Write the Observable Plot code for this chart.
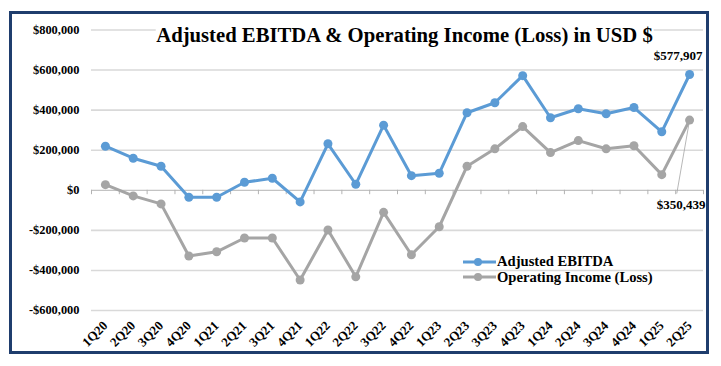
<!DOCTYPE html>
<html>
<head>
<meta charset="utf-8">
<script src="https://cdn.jsdelivr.net/npm/d3@7"></script>
<script src="https://cdn.jsdelivr.net/npm/@observablehq/plot@0.6"></script>
<style>
  html, body { margin: 0; padding: 0; background: #fff; }
  body { position: relative; width: 721px; height: 366px; overflow: hidden; font-family: "Liberation Serif", "Times New Roman", serif; }
  #frame { position: absolute; left: 9px; top: 11px; width: 700px; height: 343px; box-sizing: border-box; border: 3px solid #1f3d6d; }
  #chart { position: absolute; left: 0; top: 0; }
  #title { position: absolute; left: 404.5px; top: 25px; transform: translateX(-50%); background: #fff; white-space: nowrap;
           font: bold 20.7px/21px "Liberation Serif", serif; color: #000; padding: 0 1px; }
  #legend { position: absolute; left: 463px; top: 254px; font: bold 14.6px/15.6px "Liberation Serif", serif; color: #000; }
  #legend .row { display: flex; align-items: center; height: 15.6px; white-space: nowrap; }
  #legend svg { margin-right: 1px; }
</style>
</head>
<body>
<div id="frame"><div id="chart"></div></div>
<div id="title">Adjusted EBITDA &amp; Operating Income (Loss) in USD $</div>
<div id="legend"></div>
<script>
const categories = ["1Q20","2Q20","3Q20","4Q20","1Q21","2Q21","3Q21","4Q21","1Q22","2Q22","3Q22","4Q22",
                    "1Q23","2Q23","3Q23","4Q23","1Q24","2Q24","3Q24","4Q24","1Q25","2Q25"];
const adjustedEbitda = [220000,160000,120000,-35000,-35000,40000,60000,-58000,232000,30000,325000,73000,
                        85000,387000,437000,572000,362000,407000,382000,413000,292000,577907];
const operatingIncome = [28000,-28000,-68000,-328000,-307000,-238000,-238000,-448000,-198000,-432000,-110000,-322000,
                         -182000,120000,207000,318000,188000,248000,207000,222000,78000,350439];
const yTicks = [-600000,-400000,-200000,0,200000,400000,600000,800000];
const seriesNames = ["Adjusted EBITDA", "Operating Income (Loss)"];
const seriesColors = ["#5b9bd5", "#a5a5a5"];

const idx = categories.map((_, i) => i);
const ebitdaData = idx.map(i => ({i, v: adjustedEbitda[i]}));
const opData = idx.map(i => ({i, v: operatingIncome[i]}));
const boundaries = d3.range(categories.length + 1).map(i => i - 0.5);
const last = categories.length - 1;
const fmt = d3.format(",");
const money = d => d < 0 ? "-$" + fmt(-d) : "$" + fmt(d);

const font = "Liberation Serif, Times New Roman, serif";

const plot = Plot.plot({
  width: 694,
  height: 337,
  marginLeft: 79,
  marginRight: 3,
  marginTop: 15.5,
  marginBottom: 41,
  style: {fontFamily: font, fontWeight: "bold", fontSize: "13px", color: "#000", background: "transparent"},
  x: {domain: [-0.5, categories.length - 0.5]},
  y: {domain: [-600000, 800000]},
  marks: [
    Plot.ruleY(yTicks.filter(d => d !== 0), {y: d => d, stroke: "#d9d9d9", strokeWidth: 1.6}),
    Plot.ruleY([0], {stroke: "#b3b3b3", strokeWidth: 1}),
    Plot.ruleX(boundaries, {x: d => d, y1: 0, y2: -22000, stroke: "#b3b3b3", strokeWidth: 1}),
    Plot.axisY({ticks: yTicks, tickFormat: money, tickSize: 0, tickPadding: 12, fontSize: 12.4, fontWeight: "bold", fill: "#000"}),
    Plot.axisX({ticks: idx, tickFormat: i => categories[i], tickSize: 0, tickPadding: 13, tickRotate: -45, fontSize: 13, fontWeight: "bold", fill: "#000"}),
    Plot.line(ebitdaData, {x: "i", y: "v", stroke: seriesColors[0], strokeWidth: 3}),
    Plot.dot(ebitdaData, {x: "i", y: "v", fill: seriesColors[0], r: 4.5}),
    Plot.line(opData, {x: "i", y: "v", stroke: seriesColors[1], strokeWidth: 3}),
    Plot.dot(opData, {x: "i", y: "v", fill: seriesColors[1], r: 4.5}),
    Plot.link([{x1: last, y1: operatingIncome[last], x2: last - 0.46, y2: -16000}],
      {x1: "x1", y1: "y1", x2: "x2", y2: "y2", stroke: "#a5a5a5", strokeWidth: 0.8}),
    Plot.text([{x: last + 0.5, y: adjustedEbitda[last]}],
      {x: "x", y: "y", text: d => money(d.y), textAnchor: "end", dy: -19, dx: -1, fontSize: 13, fontWeight: "bold", fill: "#000"}),
    Plot.text([{x: last + 0.5, y: -16000, v: operatingIncome[last]}],
      {x: "x", y: "y", text: d => money(d.v), textAnchor: "end", dy: 11, dx: 2, fontSize: 13, fontWeight: "bold", fill: "#000"})
  ]
});
document.getElementById("chart").appendChild(plot);

const legend = d3.select("#legend");
seriesNames.forEach((name, k) => {
  const row = legend.append("div").attr("class", "row");
  const s = row.append("svg").attr("width", 33).attr("height", 10);
  s.append("line").attr("x1", 0).attr("x2", 33).attr("y1", 5).attr("y2", 5).attr("stroke", seriesColors[k]).attr("stroke-width", 3);
  s.append("circle").attr("cx", 15).attr("cy", 5).attr("r", 4).attr("fill", seriesColors[k]);
  row.append("span").text(name);
});
</script>
</body>
</html>
